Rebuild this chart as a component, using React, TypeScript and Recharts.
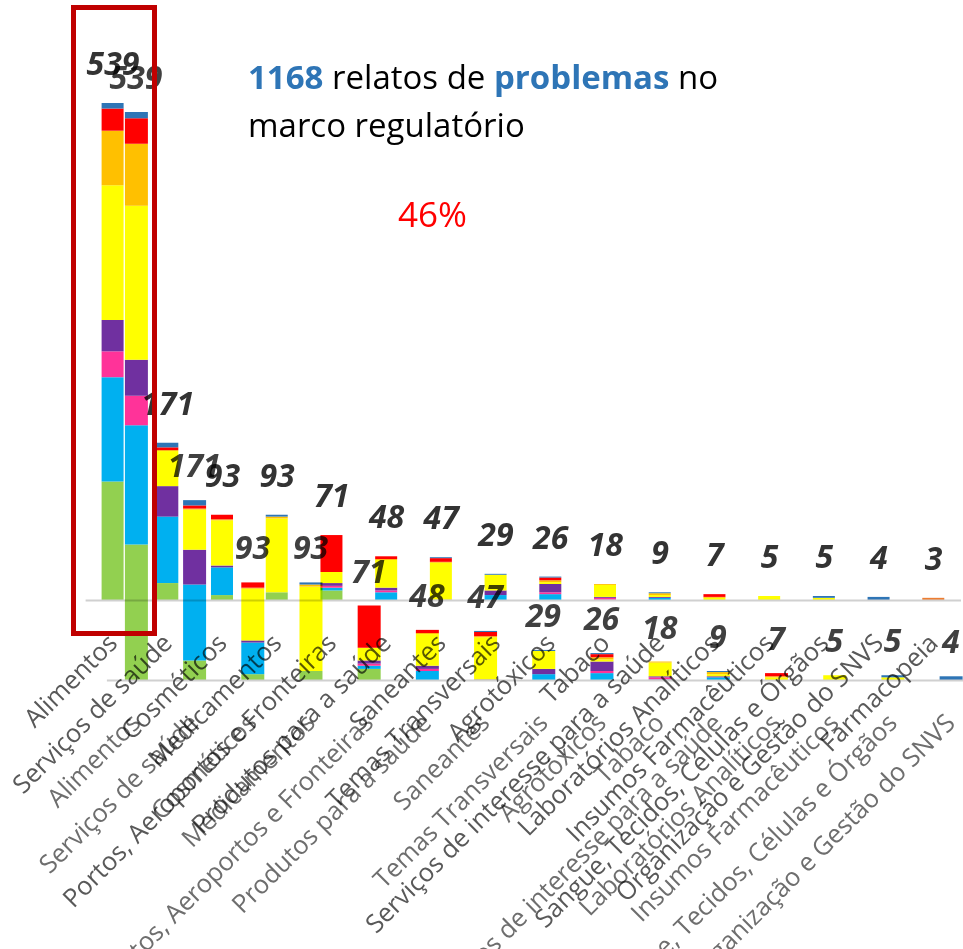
import React from 'react';
import { ComposedChart, Bar, Line, XAxis, YAxis, LabelList } from 'recharts';

// categories, left to right
const categories = [
  'Alimentos',
  'Serviços de saúde',
  'Cosméticos',
  'Medicamentos',
  'Portos, Aeroportos e Fronteiras',
  'Produtos para a saúde',
  'Saneantes',
  'Temas Transversais',
  'Agrotóxicos',
  'Tabaco',
  'Serviços de interesse para a saúde',
  'Laboratórios Analíticos',
  'Insumos Farmacêuticos',
  'Sangue, Tecidos, Células e Órgãos',
  'Organização e Gestão do SNVS',
  'Farmacopeia',
];

const totals = [539, 171, 93, 93, 71, 48, 47, 29, 26, 18, 9, 7, 5, 5, 4, 3];

// stacked segments, bottom to top
const green = [129, 19, 6, 9, 11, 0, 0, 0, 0, 0, 0, 0, 0, 0, 0, 0];
const cyan = [113, 72, 30, 0, 3, 9, 0, 6, 7, 1, 3, 0, 0, 0, 0, 0];
const pink = [28, 0, 0, 0, 2, 2, 0, 0, 2, 2, 0, 0, 0, 0, 0, 0];
const purple = [34, 33, 2, 0, 3, 3, 1, 5, 9, 1, 1, 0, 0, 0, 0, 0];
const yellow = [146, 38, 49, 80, 12, 30, 40, 17, 2, 13, 2, 3, 5, 3, 0, 0];
const orange = [59, 1, 1, 2, 0, 1, 1, 0, 2, 1, 2, 1, 0, 0, 0, 0];
const red = [24, 3, 5, 0, 40, 3, 4, 0, 3, 0, 0, 3, 0, 0, 0, 0];
const blue = [6, 5, 0, 2, 0, 0, 1, 1, 1, 0, 1, 0, 0, 2, 4, 0];
const brown = [0, 0, 0, 0, 0, 0, 0, 0, 0, 0, 0, 0, 0, 0, 0, 3];

const series = [
  { key: 'green', color: '#92D050', values: green },
  { key: 'cyan', color: '#00B0F0', values: cyan },
  { key: 'pink', color: '#FF3399', values: pink },
  { key: 'purple', color: '#7030A0', values: purple },
  { key: 'yellow', color: '#FFFF00', values: yellow },
  { key: 'orange', color: '#FFC000', values: orange },
  { key: 'red', color: '#FF0000', values: red },
  { key: 'blue', color: '#2E75B6', values: blue },
  { key: 'brown', color: '#ED7D31', values: brown },
];

const data = categories.map((name, i) => {
  const row: any = { name, total: totals[i] };
  series.forEach((s) => (row[s.key] = s.values[i]));
  return row;
});

const FONT = '"Open Sans", "Noto Sans", sans-serif';

const makeTick = (color: string, skipLast: boolean) => (props: any) => {
  const { x, y, payload, index } = props;
  if (skipLast && index === categories.length - 1) return null;
  return (
    <g transform={`translate(${x + 6},${y + 36})`}>
      <text transform="rotate(-45)" textAnchor="end" fontSize={25.5} fontFamily={FONT} fill={color}>
        {payload.value}
      </text>
    </g>
  );
};

const makeTotal = (dy: number, color: string) => (props: any) => {
  const { x, y, value } = props;
  return (
    <text
      x={x}
      y={y - dy}
      textAnchor="middle"
      fontSize={32}
      fontWeight={700}
      fontStyle="italic"
      fontFamily={FONT}
      fill={color}
    >
      {value}
    </text>
  );
};

interface LayerProps {
  width: number;
  left: number;
  right: number;
  top: number;
  plotHeight: number;
  barSize: number;
  labelDy: number;
  labelColor: string;
  tickColor: string;
  skipLast: boolean;
}

const ChartLayer: React.FC<LayerProps> = ({
  width,
  left,
  right,
  top,
  plotHeight,
  barSize,
  labelDy,
  labelColor,
  tickColor,
  skipLast,
}) => {
  const height = 949;
  const axisH = 60;
  const bottom = height - top - plotHeight - axisH;
  return (
    <ComposedChart width={width} height={height} data={data} margin={{ top, right, left, bottom }}>
      <XAxis
        dataKey="name"
        interval={0}
        height={axisH}
        tickLine={false}
        axisLine={{ stroke: '#D0D0D0', strokeWidth: 2 }}
        tick={makeTick(tickColor, skipLast)}
      />
      <YAxis hide domain={[0, 539]} />
      {series.map((s) => (
        <Bar
          key={s.key}
          dataKey={s.key}
          stackId="a"
          fill={s.color}
          barSize={barSize}
          isAnimationActive={false}
        />
      ))}
      <Line dataKey="total" stroke="none" dot={false} activeDot={false} isAnimationActive={false}>
        <LabelList dataKey="total" content={makeTotal(labelDy, labelColor)} />
      </Line>
    </ComposedChart>
  );
};

export default function App() {
  return (
    <div
      style={{
        position: 'fixed',
        left: 0,
        top: 0,
        width: 963,
        height: 949,
        overflow: 'hidden',
        background: '#fff',
      }}
    >
      {/* ghost copy, stretched and shifted */}
      <div style={{ position: 'absolute', left: 0, top: 0, filter: 'blur(0.7px)' }}>
        <ChartLayer
          width={1045}
          left={106.9}
          right={7}
          top={112}
          plotHeight={568.5}
          barSize={23}
          labelDy={23}
          labelColor="#404040"
          tickColor="#6E6E6E"
          skipLast
        />
      </div>
      {/* main copy */}
      <div style={{ position: 'absolute', left: 0, top: 0, mixBlendMode: 'multiply' }}>
        <ChartLayer
          width={963}
          left={85.6}
          right={2}
          top={103}
          plotHeight={497.6}
          barSize={22}
          labelDy={28}
          labelColor="#333333"
          tickColor="#595959"
          skipLast={false}
        />
      </div>
      <svg width={963} height={949} style={{ position: 'absolute', left: 0, top: 0 }}>
        <text x={248} y={89} fontSize={33} fontFamily={FONT} fill="#000">
          <tspan fontWeight={700} fill="#2E75B6">1168</tspan> relatos de{' '}
          <tspan fontWeight={700} fill="#2E75B6">problemas</tspan> no
        </text>
        <text x={248} y={137} fontSize={33} fontFamily={FONT} fill="#000">
          marco regulatório
        </text>
        <text x={398} y={227} fontSize={35} fontFamily={FONT} fill="#FF0000">
          46%
        </text>
        <rect x={73.5} y={7.5} width={81} height={626} fill="none" stroke="#C00000" strokeWidth={5} />
      </svg>
    </div>
  );
}
